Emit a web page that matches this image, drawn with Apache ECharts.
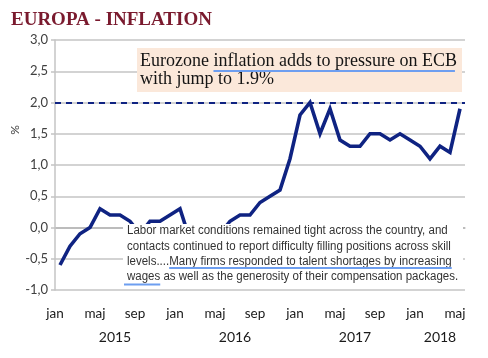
<!DOCTYPE html>
<html><head><meta charset="utf-8">
<script src="https://cdn.jsdelivr.net/npm/echarts@6/dist/echarts.min.js"></script>
<style>html,body{margin:0;padding:0;background:#fff}#c{width:488px;height:358px}</style>
</head><body><div id="c"></div>
<script>
const monthNames = ['jan','feb','mar','apr','maj','jun','jul','aug','sep','okt','nov','dec'];
const years = [2015, 2016, 2017, 2018];
const monthsInLastYear = 5;
const inflation = [
  -0.6, -0.3, -0.1, 0.0, 0.3, 0.2, 0.2, 0.1, -0.1, 0.1, 0.1, 0.2,
  0.3, -0.2, 0.0, -0.2, -0.1, 0.1, 0.2, 0.2, 0.4, 0.5, 0.6, 1.1,
  1.8, 2.0, 1.5, 1.9, 1.4, 1.3, 1.3, 1.5, 1.5, 1.4, 1.5, 1.4,
  1.3, 1.1, 1.3, 1.2, 1.9
];
const targetLevel = 2.0;
const yMin = -1, yMax = 3, yStep = 0.5;
const titleText = 'EUROPA - INFLATION';
const headline = ['Eurozone inflation adds to pressure on ECB', 'with jump to 1.9%'];
const headlineUnderlineFrom = 'inflation';
const quoteLines = [
  'Labor market conditions remained tight across the country, and',
  'contacts continued to report difficulty filling positions across skill',
  'levels....Many firms responded to talent shortages by increasing',
  'wages as well as the generosity of their compensation packages.'
];

const categories = [];
years.forEach((y, yi) => {
  const n = yi === years.length - 1 ? monthsInLastYear : 12;
  for (let m = 0; m < n; m++) categories.push(y + '-' + monthNames[m]);
});

const navy = '#0f2382';
const gridGray = '#c4c4c4';
const splitColors = [];
for (let v = yMin; v <= yMax + 1e-9; v += yStep) splitColors.push(Math.abs(v) < 1e-9 ? '#8a8a8a' : gridGray);

function tw(str, font) {
  const c = document.createElement('canvas').getContext('2d');
  c.font = font; return c.measureText(str).width;
}

const chart = echarts.init(document.getElementById('c'), null, {renderer: 'canvas'});
chart.setOption({
  animation: false,
  title: {text: titleText, left: 6, top: 6, textStyle: {fontFamily: 'Liberation Serif', fontWeight: 'bold', fontSize: 19, color: '#7a1a2e'}},
  grid: {left: 55, right: 23, top: 40, bottom: 68},
  xAxis: {
    type: 'category', data: categories, boundaryGap: true,
    axisLine: {lineStyle: {color: gridGray, width: 1.5}},
    axisTick: {interval: i => i % 12 === 0, length: 4, lineStyle: {color: gridGray, width: 1.5}},
    axisLabel: {interval: 3, formatter: v => v.split('-')[1], fontFamily: 'Lato', fontSize: 13.5, color: '#1a1a1a', margin: 17, padding: [0, 10, 0, 0]},
    splitLine: {show: false}
  },
  yAxis: {
    type: 'value', min: yMin, max: yMax, interval: yStep,
    axisLine: {show: true, lineStyle: {color: gridGray, width: 1.5}},
    axisTick: {show: true, length: 4, lineStyle: {color: gridGray, width: 1.5}},
    axisLabel: {formatter: v => v.toFixed(1).replace('.', ','), fontFamily: 'Lato', fontSize: 13, color: '#404040', margin: 7},
    splitLine: {lineStyle: {color: splitColors, width: 1.5}}
  },
  series: [{
    type: 'line', data: inflation, symbol: 'none', z: 2,
    lineStyle: {color: navy, width: 3.6, join: 'miter'},
    markLine: {silent: true, symbol: 'none', label: {show: false},
      lineStyle: {color: navy, width: 2, type: [6, 5]}, data: [{yAxis: targetLevel}]}
  }]
});

const g = [];
g.push({type: 'text', x: 15, y: 130, rotation: Math.PI / 2, z: 100,
  style: {text: '%', fontFamily: 'Lato', fontSize: 12, fill: '#404040', align: 'center', verticalAlign: 'middle'}});
let start = 0;
years.forEach((y, yi) => {
  const n = yi === years.length - 1 ? monthsInLastYear : 12;
  const a = chart.convertToPixel({xAxisIndex: 0}, categories[start]);
  const b = chart.convertToPixel({xAxisIndex: 0}, categories[start + n - 1]);
  g.push({type: 'text', x: (a + b) / 2, y: 337, z: 100,
    style: {text: String(y), fontFamily: 'Lato', fontSize: 14, fill: '#1a1a1a', align: 'center', verticalAlign: 'middle'}});
  start += n;
});
// headline box
const hFont = '18px "Liberation Serif"';
const hx = 140;
g.push({type: 'rect', z: 100, shape: {x: 137, y: 48, width: 325, height: 44}, style: {fill: '#fbe8da'}});
g.push({type: 'text', x: hx, y: 61, z: 101, style: {text: headline[0], font: hFont, fill: '#141414', verticalAlign: 'middle'}});
g.push({type: 'text', x: hx, y: 79, z: 101, style: {text: headline[1], font: hFont, fill: '#141414', verticalAlign: 'middle'}});
const uStart = hx + tw(headline[0].slice(0, headline[0].indexOf(headlineUnderlineFrom)), hFont);
const uEnd = hx + tw(headline[0], hFont) - 2;
g.push({type: 'line', z: 102, shape: {x1: uStart, y1: 71, x2: uEnd, y2: 71}, style: {stroke: '#6d9ef0', lineWidth: 2.2}});
// quote box
const qFont = '12.5px "Liberation Sans"';
const qScale = 0.92;
const qx = 127;
g.push({type: 'rect', z: 100, shape: {x: 123, y: 224, width: 340, height: 64}, style: {fill: '#ffffff'}});
const qy = [231, 246.3, 261.5, 276.7];
quoteLines.forEach((t, i) => {
  g.push({type: 'text', x: qx, y: qy[i], scaleX: qScale, z: 101, style: {text: t, font: qFont, fill: '#333333', verticalAlign: 'middle'}});
});
const l3 = quoteLines[2];
const m0 = qx + qScale * tw(l3.slice(0, l3.indexOf('Many')), qFont);
const m1 = qx + qScale * tw(l3, qFont);
g.push({type: 'line', z: 102, shape: {x1: m0, y1: 268, x2: m1, y2: 268}, style: {stroke: '#6d9ef0', lineWidth: 2}});
const w1 = qx + qScale * tw('wages', qFont);
g.push({type: 'line', z: 102, shape: {x1: qx - 3, y1: 284.5, x2: w1, y2: 284.5}, style: {stroke: '#6d9ef0', lineWidth: 2}});
chart.setOption({graphic: {elements: g}});
</script>
</body></html>
